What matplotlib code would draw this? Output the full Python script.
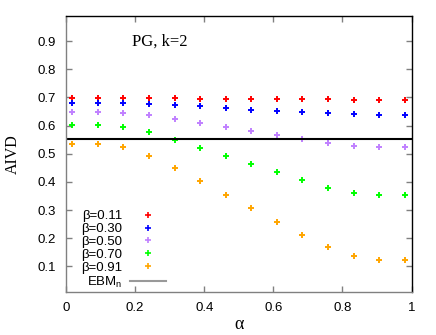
import matplotlib
matplotlib.use("Agg")
import matplotlib.pyplot as plt
from matplotlib.lines import Line2D

alpha = [0.018, 0.092, 0.166, 0.240, 0.314, 0.388, 0.462,
         0.536, 0.610, 0.684, 0.758, 0.832, 0.906, 0.980]

b011 = [0.698, 0.698, 0.698, 0.697, 0.697, 0.696, 0.695,
        0.695, 0.694, 0.694, 0.693, 0.692, 0.691, 0.690]
b030 = [0.682, 0.682, 0.681, 0.677, 0.673, 0.668, 0.662,
        0.657, 0.652, 0.648, 0.643, 0.641, 0.638, 0.638]
b050 = [0.650, 0.650, 0.645, 0.636, 0.623, 0.609, 0.595,
        0.580, 0.565, 0.551, 0.539, 0.528, 0.525, 0.524]
b070 = [0.602, 0.601, 0.594, 0.576, 0.548, 0.520, 0.492,
        0.463, 0.435, 0.406, 0.380, 0.361, 0.354, 0.354]
b091 = [0.535, 0.535, 0.523, 0.491, 0.448, 0.402, 0.353,
        0.306, 0.257, 0.211, 0.168, 0.137, 0.123, 0.123]
ebm = 0.552

series = [("\u03b2=0.11", b011, "#ff0000"),
          ("\u03b2=0.30", b030, "#0000ff"),
          ("\u03b2=0.50", b050, "#c080ff"),
          ("\u03b2=0.70", b070, "#00ff00"),
          ("\u03b2=0.91", b091, "#ffa500")]

sans = "Liberation Sans"
serif = "Liberation Serif"

fig = plt.figure(figsize=(4.36, 3.35), dpi=100)
ax = fig.add_axes([0.1514, 0.129, 0.7926, 0.824])

handles = []
for label, vals, col in series:
    ax.plot(alpha, vals, ls="none", marker="+", ms=4.5, mew=1.4, color=col)
    handles.append(Line2D([], [], ls="none", marker="+", ms=4.5, mew=1.2,
                          color=col, label=label))
ax.axhline(ebm, color="black", lw=1.5)
handles.append(Line2D([], [], color="#999999", lw=1.5, label="EBM$_\\mathregular{n}$"))

ax.set_xlim(0, 1)
ax.set_ylim(0.01, 0.99)
ax.set_xticks([0, 0.2, 0.4, 0.6, 0.8, 1])
ax.set_xticklabels(["0", "0.2", "0.4", "0.6", "0.8", "1"])
ax.set_yticks([0.1, 0.2, 0.3, 0.4, 0.5, 0.6, 0.7, 0.8, 0.9])
ax.tick_params(direction="in", length=4, width=1, color="#808080",
               top=True, right=True, labelsize=9.5, pad=7)
for t in ax.get_xticklabels() + ax.get_yticklabels():
    t.set_family(sans)
for s in ["left", "bottom"]:
    ax.spines[s].set_color("#808080")
for s in ax.spines.values():
    s.set_linewidth(1)

ax.set_xlabel("\u03b1", family=serif, fontsize=13, labelpad=2)
ax.set_ylabel("AIVD", family=serif, fontsize=11.5, labelpad=12)
ax.text(0.191, 0.907, "PG, k=2", transform=ax.transAxes, family=serif,
        fontsize=12, va="center")

leg = ax.legend(handles=handles, loc="lower left", bbox_to_anchor=(0.01, -0.035),
                frameon=False, markerfirst=False, handlelength=2.7,
                handletextpad=0.6, labelspacing=0.05,
                prop={"family": sans, "size": 9.5})

fig.savefig("out.png", dpi=100)
